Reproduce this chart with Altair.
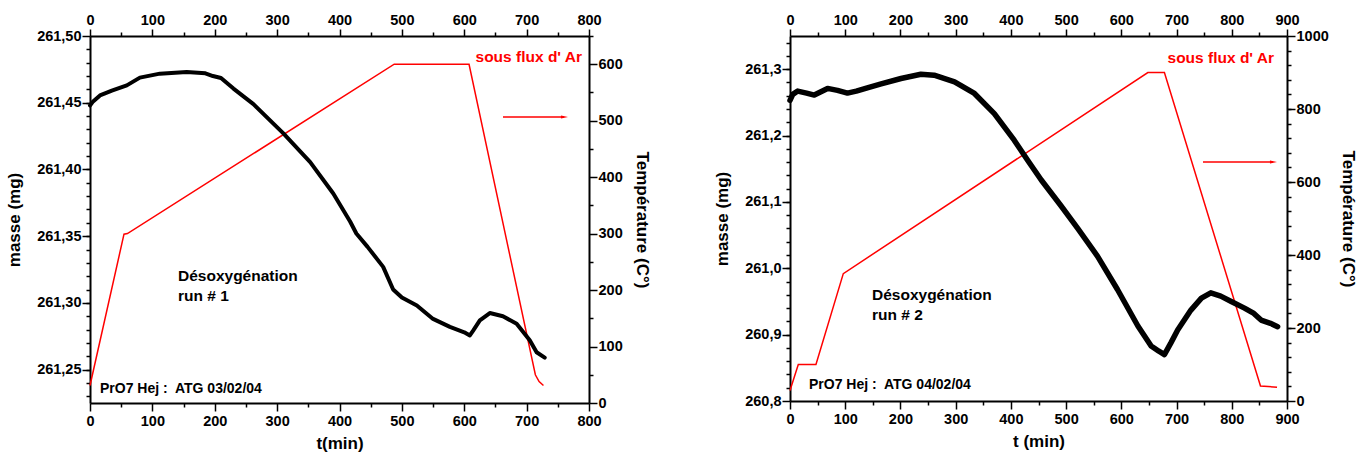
import altair as alt
import pandas as pd

FONT = "Liberation Sans"

# ---- run 1 (ATG 03/02/04) ----
t_mass_1 = [0, 5, 16, 35, 59, 80, 112, 155, 185, 197, 210, 230, 262, 310, 353, 390, 417,
            427, 445, 470, 486, 500, 524, 550, 577, 600, 609, 614, 625, 641, 662, 684,
            705, 716, 729]
mass_1 = [261.448, 261.451, 261.4555, 261.459, 261.463, 261.4688, 261.4718, 261.473,
          261.472, 261.470, 261.4685, 261.4606, 261.449, 261.427, 261.4055, 261.382,
          261.361, 261.352, 261.342, 261.327, 261.310, 261.304, 261.298, 261.288,
          261.282, 261.278, 261.2756, 261.279, 261.2869, 261.2924, 261.290, 261.2844,
          261.272, 261.263, 261.259]
t_temp_1 = [0, 54.5, 60, 487.7, 607.7, 714, 720, 727]
temp_1 = [31, 299, 300, 600, 600, 50, 38, 31]

# ---- run 2 (ATG 04/02/04) ----
t_mass_2 = [0, 5, 14, 30, 44, 56, 68, 86, 104, 120, 140, 165, 201, 237, 261, 298, 334,
            370, 406, 430, 455, 490, 521, 557, 593, 630, 654, 668, 678, 690, 702, 726,
            745, 762, 780, 799, 823, 840, 853, 870, 883]
mass_2 = [261.253, 261.262, 261.267, 261.264, 261.261, 261.266, 261.271, 261.268,
          261.264, 261.267, 261.272, 261.278, 261.286, 261.2924, 261.291, 261.281,
          261.2634, 261.233, 261.193, 261.163, 261.133, 261.095, 261.060, 261.018,
          260.968, 260.913, 260.883, 260.875, 260.870, 260.888, 260.907, 260.937,
          260.955, 260.963, 260.958, 260.950, 260.940, 260.932, 260.922, 260.917,
          260.912]
t_temp_2 = [0, 15, 47, 96.5, 648, 678, 852, 882]
temp_2 = [29, 100, 100, 349, 900, 900, 41, 38]

NBSP = "\u00a0"


def steps(start, stop, step, nd=3):
    n = int(round((stop - start) / step))
    return [round(start + i * step, nd) for i in range(n + 1)]


AX = dict(domainColor="black", domainWidth=2, tickColor="black", tickWidth=1.5,
          labelFont=FONT, labelFontWeight="bold", labelFontSize=14.5, labelColor="black",
          titleFont=FONT, titleFontWeight="bold", titleFontSize=17, titleColor="black",
          grid=False, labelFlush=False)
MINOR = dict(labels=False, domain=False, title=None, tickColor="black", tickWidth=1.5,
             tickSize=4, grid=False)


def text_layer(label, x, y, color="black", size=15.5, align="left"):
    return alt.Chart(pd.DataFrame({"label": [label]})).mark_text(
        font=FONT, fontWeight="bold", fontSize=size, color=color, align=align,
        baseline="middle", lineBreak="\n", lineHeight=20,
    ).encode(text="label:N", x=alt.value(x), y=alt.value(y))


def panel(t_m, m, t_T, T, xmax, mdom, mmajor, mminor, mfmt, Tdom, Tmajor, Tminor,
          width, height, lw, xtitle, run_label, run_xy, ref_label, ref_xy,
          flux_xy, arrow):
    mass_df = pd.DataFrame({"t": t_m, "m": m})
    temp_df = pd.DataFrame({"t": t_T, "T": T})
    xs = alt.Scale(domain=[0, xmax], nice=False, zero=False)
    ms = alt.Scale(domain=mdom, nice=False, zero=False)
    ts = alt.Scale(domain=Tdom, nice=False, zero=False)
    xmajor = steps(0, xmax, 100, 0)
    xminor = steps(50, xmax, 100, 0)
    comma = "replace(datum.label, '.', ',')"

    mass_line = alt.Chart(mass_df).mark_line(
        color="black", strokeWidth=lw, strokeJoin="round", strokeCap="round"
    ).encode(
        x=alt.X("t:Q", scale=xs, axis=alt.Axis(
            orient="bottom", values=xmajor, format="d", tickSize=8, labelPadding=3,
            title=xtitle, titlePadding=8, **AX)),
        y=alt.Y("m:Q", scale=ms, axis=alt.Axis(
            orient="left", values=mmajor, format=mfmt, labelExpr=comma,
            tickSize=8, labelPadding=1, title="masse (mg)", titlePadding=13, **AX)),
    )
    temp_line = alt.Chart(temp_df).mark_line(color="#ff0000", strokeWidth=1.5).encode(
        x=alt.X("t:Q", scale=xs, axis=alt.Axis(
            orient="top", values=xmajor, format="d", tickSize=7, labelPadding=2,
            title=None, **AX)),
        y=alt.Y("T:Q", scale=ts, axis=alt.Axis(
            orient="right", values=Tmajor, format="d", tickSize=8, labelPadding=1,
            title="Température (C°)", titlePadding=10, **AX)),
    )
    minor_lb = alt.Chart(mass_df).mark_line(strokeOpacity=0).encode(
        x=alt.X("t:Q", scale=xs, axis=alt.Axis(orient="bottom", values=xminor, **MINOR)),
        y=alt.Y("m:Q", scale=ms, axis=alt.Axis(orient="left", values=mminor, **MINOR)),
    )
    minor_tr = alt.Chart(temp_df).mark_line(strokeOpacity=0).encode(
        x=alt.X("t:Q", scale=xs, axis=alt.Axis(orient="top", values=xminor, **MINOR)),
        y=alt.Y("T:Q", scale=ts, axis=alt.Axis(orient="right", values=Tminor, **MINOR)),
    )
    x0, x1, ya = arrow
    arrow_shaft = alt.Chart(pd.DataFrame({"a": [0]})).mark_rule(
        color="#ff0000", strokeWidth=1.5
    ).encode(x=alt.value(x0), x2=alt.value(x1 - 4), y=alt.value(ya))
    arrow_head = alt.Chart(pd.DataFrame({"a": [0]})).mark_point(
        shape="M-1,-0.45L1,0L-1,0.45Z", filled=True, color="#ff0000", opacity=1, size=50
    ).encode(x=alt.value(x1 - 3.5), y=alt.value(ya))

    return alt.layer(
        minor_lb, minor_tr, temp_line, mass_line,
        text_layer(run_label, *run_xy),
        text_layer(ref_label, *ref_xy, size=14),
        text_layer("sous flux d' Ar", *flux_xy, color="#ff0000", align="right"),
        arrow_shaft, arrow_head,
    ).resolve_scale(y="independent").resolve_axis(
        x="independent", y="independent"
    ).properties(width=width, height=height)


p1 = panel(
    t_mass_1, mass_1, t_temp_1, temp_1, 800,
    [261.225, 261.50], steps(261.25, 261.50, 0.05), steps(261.23, 261.49, 0.01), ".2f",
    [0, 650], steps(0, 600, 100, 0), steps(50, 650, 100, 0),
    499, 367, 4, "t(min)",
    "Désoxygénation\nrun # 1", (88, 240), f"PrO7 Hej :{NBSP} ATG 03/02/04", (10, 353),
    (492, 21), (413, 478, 81),
)
p2 = panel(
    t_mass_2, mass_2, t_temp_2, temp_2, 900,
    [260.8, 261.35], steps(260.8, 261.3, 0.1), steps(260.82, 261.34, 0.02), ".1f",
    [0, 1000], steps(0, 1000, 200, 0), steps(40, 960, 40, 0),
    497, 365, 5.5, "t (min)",
    "Désoxygénation\nrun # 2", (82, 259), f"PrO7 Hej :{NBSP} ATG 04/02/04", (19, 349),
    (484, 22), (413, 487, 126),
)

chart = alt.hconcat(p1, p2, spacing=62).properties(
    padding={"left": 5, "top": 11, "right": 5, "bottom": 5}
).configure_view(strokeWidth=0).configure(font=FONT)

chart.save("out.html", embed_options={"renderer": "svg", "actions": False})
